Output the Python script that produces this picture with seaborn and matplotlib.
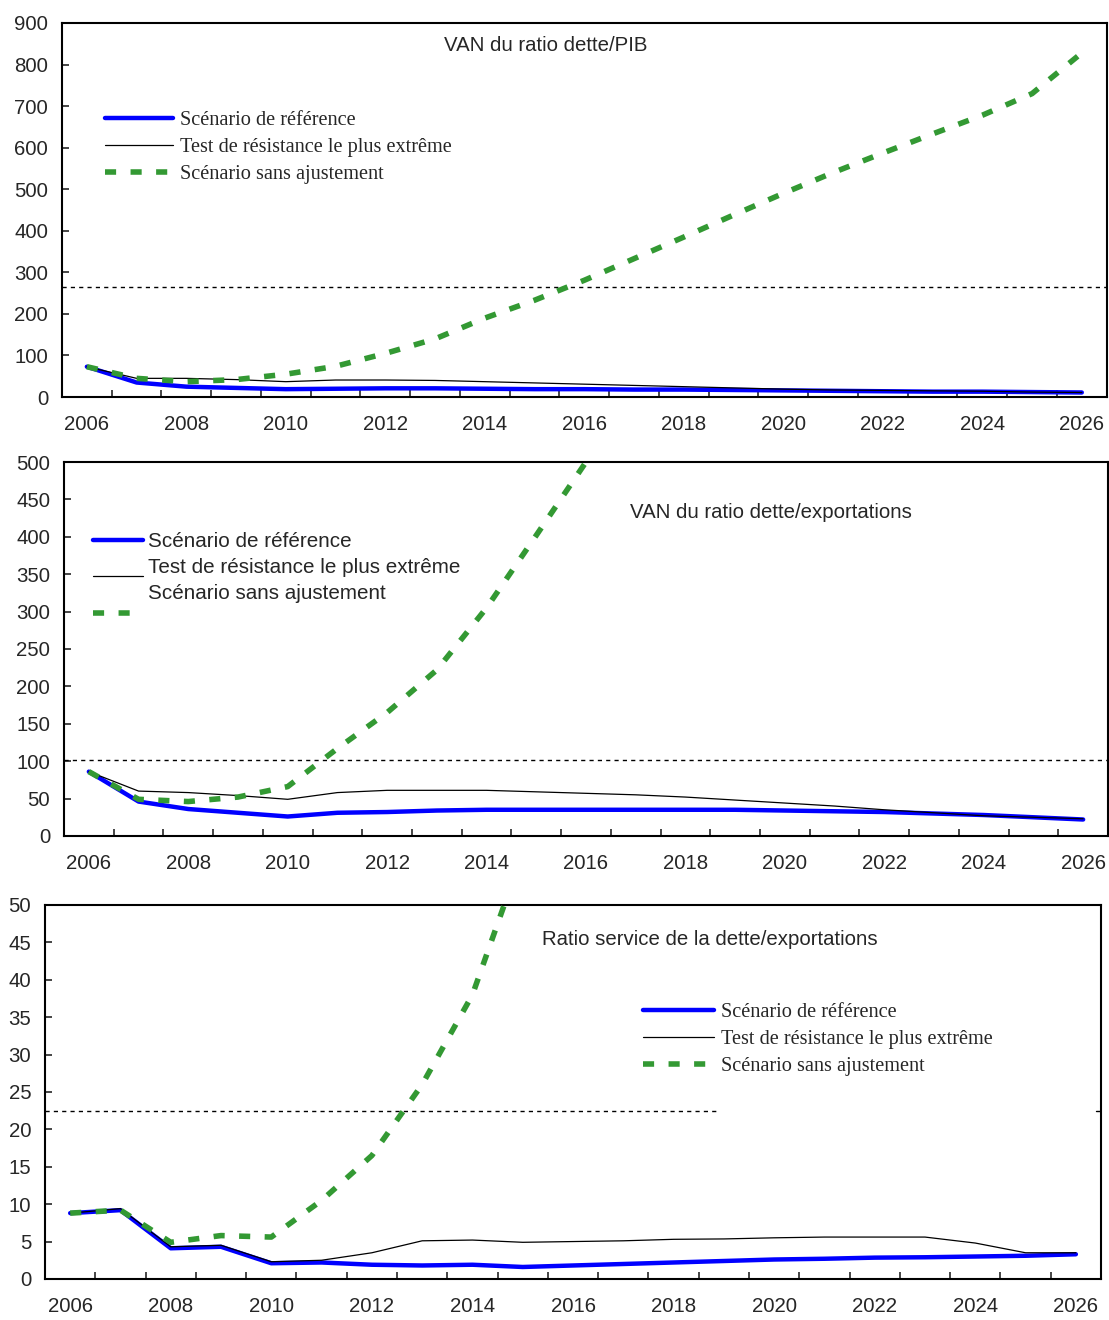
import numpy as np
import pandas as pd
import matplotlib
matplotlib.use("Agg")
import matplotlib.pyplot as plt
from matplotlib.lines import Line2D
from matplotlib.ticker import MultipleLocator
import seaborn as sns

years = list(range(2006, 2027))

# VAN du ratio dette/PIB
pib_base = [73, 35, 25, 22, 19, 20, 21, 21, 20, 19, 19, 18, 18, 17, 16, 15, 14, 13, 13, 12, 11]
pib_stress = [73, 45, 45, 42, 37, 41, 41, 40, 37, 34, 31, 28, 25, 22, 19, 17, 16, 15, 14, 12, 11]
pib_noadj = [73, 45, 37, 42, 55, 74, 105, 140, 190, 233, 281, 333, 385, 438, 490, 540, 587, 633, 678, 730, 828]
pib_seuil = 264

# VAN du ratio dette/exportations
exp_base = [86, 46, 36, 31, 26, 31, 32, 34, 35, 35, 35, 35, 35, 35, 34, 33, 32, 30, 28, 25, 22]
exp_stress = [86, 60, 58, 54, 49, 58, 61, 61, 61, 59, 57, 55, 52, 48, 44, 40, 35, 31, 27, 25, 23]
exp_noadj = [86, 49, 46, 52, 66, 117, 165, 222, 305, 402, 500, 600, 700, 800, 900, 1000, 1100, 1200, 1300, 1400, 1500]
exp_seuil = 102

# Ratio service de la dette/exportations
serv_base = [8.8, 9.2, 4.1, 4.3, 2.1, 2.2, 1.9, 1.8, 1.9, 1.6, 1.8, 2.0, 2.2, 2.4, 2.6, 2.7, 2.85, 2.9, 3.0, 3.1, 3.3]
serv_stress = [8.8, 9.4, 4.3, 4.5, 2.3, 2.5, 3.5, 5.1, 5.2, 4.9, 5.0, 5.1, 5.3, 5.35, 5.5, 5.6, 5.6, 5.6, 4.8, 3.5, 3.5]
serv_noadj = [8.8, 9.2, 4.9, 5.8, 5.6, 10.5, 16.5, 26, 38, 57, 68, 80, 92, 104, 116, 128, 140, 152, 164, 176, 188]
serv_seuil = 22.5

labels = ["Scénario de référence", "Test de résistance le plus extrême", "Scénario sans ajustement"]

sns.set_style("ticks")
plt.rcParams["font.family"] = ["Liberation Sans", "DejaVu Sans"]
plt.rcParams["axes.linewidth"] = 1.5

fig = plt.figure(figsize=(11.09, 13.2), dpi=100)
ax1 = fig.add_axes([0.0559, 0.6992, 0.9420, 0.2834])
ax2 = fig.add_axes([0.0577, 0.3667, 0.9414, 0.2833])
ax3 = fig.add_axes([0.0406, 0.0311, 0.9522, 0.2833])

SERIF = ["Liberation Serif", "DejaVu Serif"]
FS = 14.7


def draw(ax, base, stress, noadj, seuil, ymax, ystep, title, tpos):
    df = pd.DataFrame({"annee": years, "base": base, "stress": stress, "noadj": noadj})
    sns.lineplot(data=df, x="annee", y="base", ax=ax, color="#0000ff", lw=3.2, zorder=3)
    sns.lineplot(data=df, x="annee", y="stress", ax=ax, color="black", lw=0.9, zorder=4)
    sns.lineplot(data=df, x="annee", y="noadj", ax=ax, color="#339933", lw=4,
                 dashes=False, zorder=5).lines[-1].set_dashes((2, 2.6))
    ax.set_xlim(2005.5, 2026.5)
    ax.set_ylim(0, ymax)
    ax.yaxis.set_major_locator(MultipleLocator(ystep))
    ax.set_xticks(years[::2])
    ax.set_xticks(np.arange(2006.5, 2026, 1), minor=True)
    ax.tick_params(axis="x", which="major", length=0, pad=13, labelsize=FS)
    ax.tick_params(axis="x", which="minor", direction="in", length=5, width=1.2)
    ax.tick_params(axis="y", direction="in", length=5, width=1.2, pad=10, labelsize=FS)
    ax.set_xlabel("")
    ax.set_ylabel("")
    for s in ax.spines.values():
        s.set_visible(True)
        s.set_color("black")
    ax.text(tpos[0], tpos[1], title, transform=ax.transAxes, ha="center", va="center", fontsize=FS)
    return ax


def handles():
    return [Line2D([], [], color="#0000ff", lw=3.2),
            Line2D([], [], color="black", lw=0.9),
            Line2D([], [], color="#339933", lw=4, dashes=(2, 2.6))]


# panneau 1
draw(ax1, pib_base, pib_stress, pib_noadj, pib_seuil, 900, 100, "VAN du ratio dette/PIB", (0.463, 0.941))
ax1.axhline(pib_seuil, color="black", lw=1, dashes=(3, 3))
ax1.legend(handles(), labels, loc="upper left", bbox_to_anchor=(0.041, 0.766), frameon=False,
           prop={"family": SERIF, "size": 14.6}, handlelength=3.35, handletextpad=0.35,
           labelspacing=0.4, borderpad=0, borderaxespad=0)

# panneau 2
draw(ax2, exp_base, exp_stress, exp_noadj, exp_seuil, 500, 50, "VAN du ratio dette/exportations", (0.677, 0.864))
ax2.axhline(exp_seuil, color="black", lw=1, dashes=(3, 3))
leg_h = ax2.legend(handles(), [" ", " ", " "], loc="upper left", bbox_to_anchor=(0.028, 0.813),
                   frameon=False, fontsize=14.9, handlelength=2.42, handletextpad=0,
                   labelspacing=0.86, borderpad=0, borderaxespad=0)
ax2.add_artist(leg_h)
empty = [Line2D([], [], color="none") for _ in labels]
ax2.legend(empty, labels, loc="upper left", bbox_to_anchor=(0.0805, 0.813), frameon=False,
           fontsize=14.9, handlelength=0, handletextpad=0, labelspacing=0.33,
           borderpad=0, borderaxespad=0)

# panneau 3
draw(ax3, serv_base, serv_stress, serv_noadj, serv_seuil, 50, 5,
     "Ratio service de la dette/exportations", (0.63, 0.909))
ax3.axhline(serv_seuil, xmin=0, xmax=0.637, color="black", lw=1, dashes=(3, 3))
ax3.axhline(serv_seuil, xmin=0.995, xmax=1, color="black", lw=1)
ax3.legend(handles(), labels, loc="upper left", bbox_to_anchor=(0.566, 0.739), frameon=False,
           prop={"family": SERIF, "size": 14.6}, handlelength=3.5, handletextpad=0.35,
           labelspacing=0.4, borderpad=0, borderaxespad=0)

fig.savefig("out.png", dpi=100)
